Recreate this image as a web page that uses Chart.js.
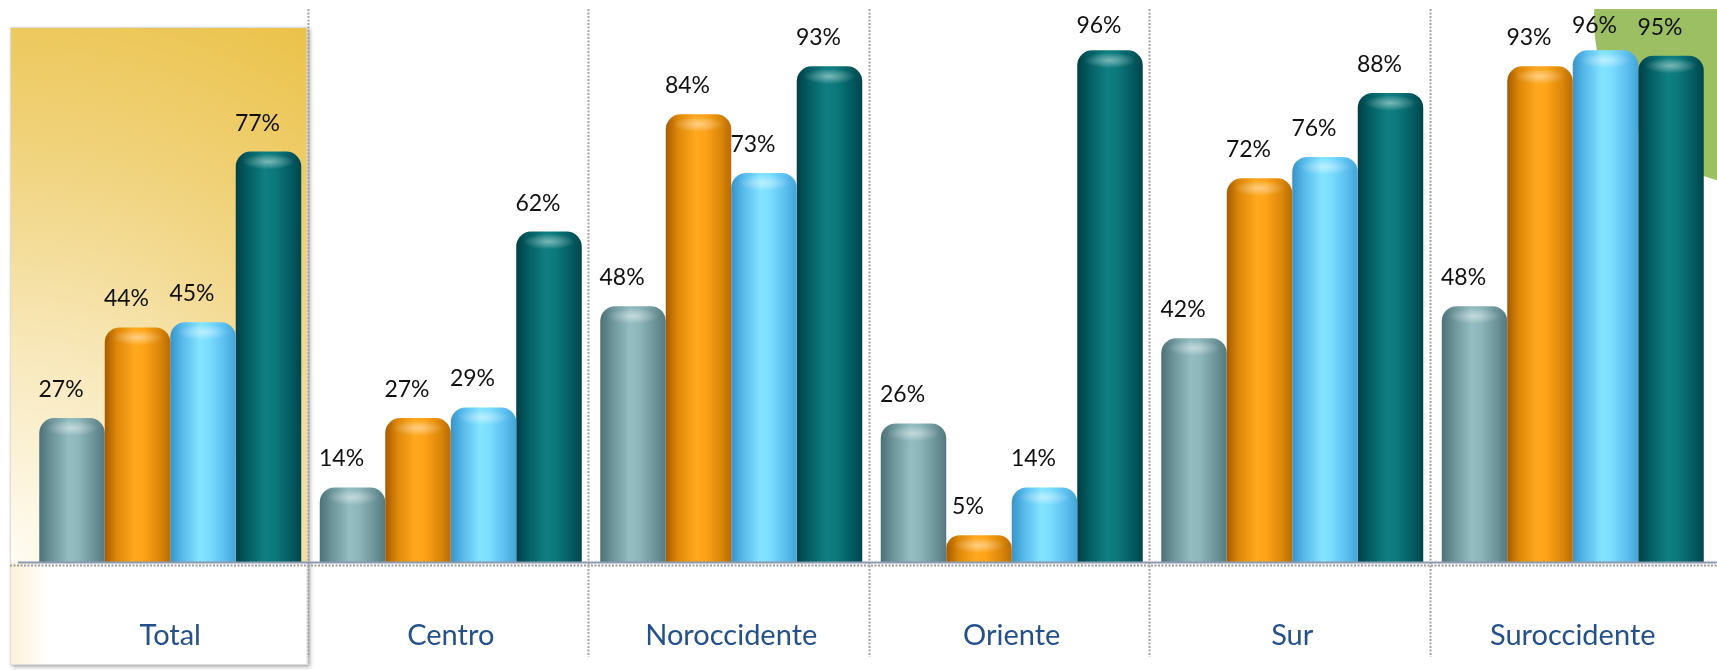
<!DOCTYPE html>
<html lang="es">
<head>
<meta charset="utf-8">
<title>Regiones</title>
<script src="https://cdn.jsdelivr.net/npm/chart.js@4.4.1/dist/chart.umd.min.js"></script>
<style>
  html, body { margin: 0; padding: 0; background: #fff; }
  #wrap { position: relative; width: 1717px; height: 670px; }
</style>
</head>
<body>
<div id="wrap"><canvas id="regionChart"></canvas></div>
<script>
// Datos por región (porcentajes)
const regiones = ['Total', 'Centro', 'Noroccidente', 'Oriente', 'Sur', 'Suroccidente'];
const serie1 = [27, 14, 48, 26, 42, 48];
const serie2 = [44, 27, 84, 5, 72, 93];
const serie3 = [45, 29, 73, 14, 76, 96];
const serie4 = [77, 62, 93, 96, 88, 95];

// Sombreado horizontal de cada cilindro: borde oscuro -> centro claro -> borde oscuro
const shades = [
    [[0, '#4d7176'], [0.18, '#6b9398'], [0.45, '#93bdc1'], [0.6, '#8db6ba'], [0.85, '#6a9196'], [1, '#557a7f']],
    [[0, '#a65a00'], [0.18, '#dc8708'], [0.45, '#ffa81e'], [0.6, '#ffa318'], [0.85, '#d98508'], [1, '#b86c06']],
    [[0, '#3993c8'], [0.18, '#56b9ea'], [0.45, '#84e4ff'], [0.6, '#7adcff'], [0.85, '#58bbec'], [1, '#45a4d8']],
    [[0, '#003f46'], [0.18, '#035d62'], [0.45, '#0f7f81'], [0.6, '#0c797b'], [0.85, '#035a60'], [1, '#00454c']]
];

// Fondo: círculo verde, recuadro dorado de "Total" y separadores punteados
const backdrop = {
    id: 'backdrop',
    beforeDraw(chart) {
        const ctx = chart.ctx;
        const x = chart.scales.x;
        const area = chart.chartArea;
        const sep = i => x.getPixelForValue(i - 0.5) - 3;

        ctx.save();
        ctx.beginPath();
        ctx.rect(0, 9, chart.width, chart.height);
        ctx.clip();
        ctx.fillStyle = '#9dbf63';
        ctx.beginPath();
        ctx.arc(1760, 20, 166, 0, Math.PI * 2);
        ctx.fill();
        ctx.restore();

        // recuadro de Total
        const bx = 10, by = 27, bw = sep(1) - 10, bh = 665 - 27;
        ctx.save();
        ctx.shadowColor = 'rgba(0,0,0,0.35)';
        ctx.shadowBlur = 4;
        ctx.shadowOffsetX = 2;
        ctx.shadowOffsetY = 2;
        ctx.fillStyle = '#fff';
        ctx.fillRect(bx, by, bw, bh);
        ctx.restore();

        ctx.save();
        const rg = ctx.createRadialGradient(bx, area.bottom, 0, bx, area.bottom, 600);
        rg.addColorStop(0, '#fffcf3');
        rg.addColorStop(0.35, '#f8e8bb');
        rg.addColorStop(0.7, '#f0d27a');
        rg.addColorStop(1, '#ebc34c');
        ctx.fillStyle = rg;
        ctx.fillRect(bx, by, bw, area.bottom - by);
        const lg = ctx.createLinearGradient(bx, 0, bx + 40, 0);
        lg.addColorStop(0, '#fcf1d8');
        lg.addColorStop(1, '#ffffff');
        ctx.fillStyle = lg;
        ctx.fillRect(bx, area.bottom, bw, by + bh - area.bottom);
        ctx.strokeStyle = '#dcdcdc';
        ctx.lineWidth = 1;
        ctx.strokeRect(bx + 0.5, by + 0.5, bw - 1, bh - 1);
        ctx.restore();

        // separadores verticales
        ctx.save();
        ctx.strokeStyle = '#a3a3a3';
        ctx.lineWidth = 2;
        ctx.setLineDash([2, 1.5]);
        for (let i = 1; i < regiones.length; i++) {
            const sx = Math.round(sep(i)) + 0.5;
            ctx.beginPath();
            ctx.moveTo(sx, 9);
            ctx.lineTo(sx, 657);
            ctx.stroke();
        }
        ctx.restore();
    }
};

// Gradiente cilíndrico, brillo de la tapa, eje y etiquetas de valor
const cylinder = {
    id: 'cylinder',
    afterDatasetsUpdate(chart) {
        const ctx = chart.ctx;
        chart.data.datasets.forEach((ds, i) => {
            chart.getDatasetMeta(i).data.forEach(bar => {
                const left = bar.x - bar.width / 2;
                const g = ctx.createLinearGradient(left, 0, left + bar.width, 0);
                shades[i].forEach(([stop, col]) => g.addColorStop(stop, col));
                bar.options.backgroundColor = g;
            });
        });
    },
    afterDatasetsDraw(chart) {
        const ctx = chart.ctx;
        const area = chart.chartArea;

        chart.data.datasets.forEach((ds, i) => {
            chart.getDatasetMeta(i).data.forEach(bar => {
                const r = bar.width * 0.4;
                ctx.save();
                ctx.translate(bar.x, bar.y + 10);
                ctx.scale(1, 0.3);
                const hg = ctx.createRadialGradient(0, 0, 0, 0, 0, r);
                hg.addColorStop(0, 'rgba(255,255,255,0.45)');
                hg.addColorStop(1, 'rgba(255,255,255,0)');
                ctx.fillStyle = hg;
                ctx.fillRect(-r, -r, 2 * r, 2 * r);
                ctx.restore();
            });
        });

        // línea base y línea punteada
        ctx.save();
        ctx.strokeStyle = '#8c9ab0';
        ctx.lineWidth = 2;
        ctx.beginPath();
        ctx.moveTo(18, area.bottom + 0.5);
        ctx.lineTo(chart.width, area.bottom + 0.5);
        ctx.stroke();
        ctx.strokeStyle = '#9c9c9c';
        ctx.setLineDash([2, 1.5]);
        ctx.beginPath();
        ctx.moveTo(10, area.bottom + 3.5);
        ctx.lineTo(chart.width, area.bottom + 3.5);
        ctx.stroke();
        ctx.restore();

        // etiquetas de porcentaje
        ctx.save();
        ctx.font = '23px Lato';
        ctx.fillStyle = '#111';
        ctx.textAlign = 'center';
        ctx.textBaseline = 'alphabetic';
        chart.data.datasets.forEach((ds, i) => {
            chart.getDatasetMeta(i).data.forEach((bar, j) => {
                const y = Math.max(bar.y - 21, 33);
                ctx.fillText(ds.data[j] + '%', bar.x - 11, y);
            });
        });
        ctx.restore();
    }
};

Chart.defaults.font.family = 'Lato';

const mkSet = (label, data, i) => ({
    label: label,
    data: data,
    backgroundColor: () => shades[i][2][1],
    borderWidth: 0,
    borderSkipped: 'start',
    borderRadius: { topLeft: 15, topRight: 15, bottomLeft: 0, bottomRight: 0 },
    barPercentage: 1,
    categoryPercentage: 0.934
});

new Chart(document.getElementById('regionChart'), {
    type: 'bar',
    data: {
        labels: regiones,
        datasets: [
            mkSet('Serie 1', serie1, 0),
            mkSet('Serie 2', serie2, 1),
            mkSet('Serie 3', serie3, 2),
            mkSet('Serie 4', serie4, 3)
        ]
    },
    options: {
        responsive: true,
        maintainAspectRatio: false,
        devicePixelRatio: 1,
        animation: false,
        events: [],
        layout: { padding: { left: 30, right: 4, top: 29, bottom: 17 } },
        plugins: {
            legend: { display: false },
            tooltip: { enabled: false }
        },
        scales: {
            x: {
                grid: { display: false, drawTicks: false },
                border: { display: false },
                afterFit: scale => { scale.height = 91; },
                ticks: {
                    color: '#24518c',
                    font: { size: 29 },
                    padding: 56,
                    autoSkip: false,
                    maxRotation: 0
                }
            },
            y: {
                display: false,
                min: 0,
                max: 100
            }
        }
    },
    plugins: [backdrop, cylinder]
});
</script>
</body>
</html>
